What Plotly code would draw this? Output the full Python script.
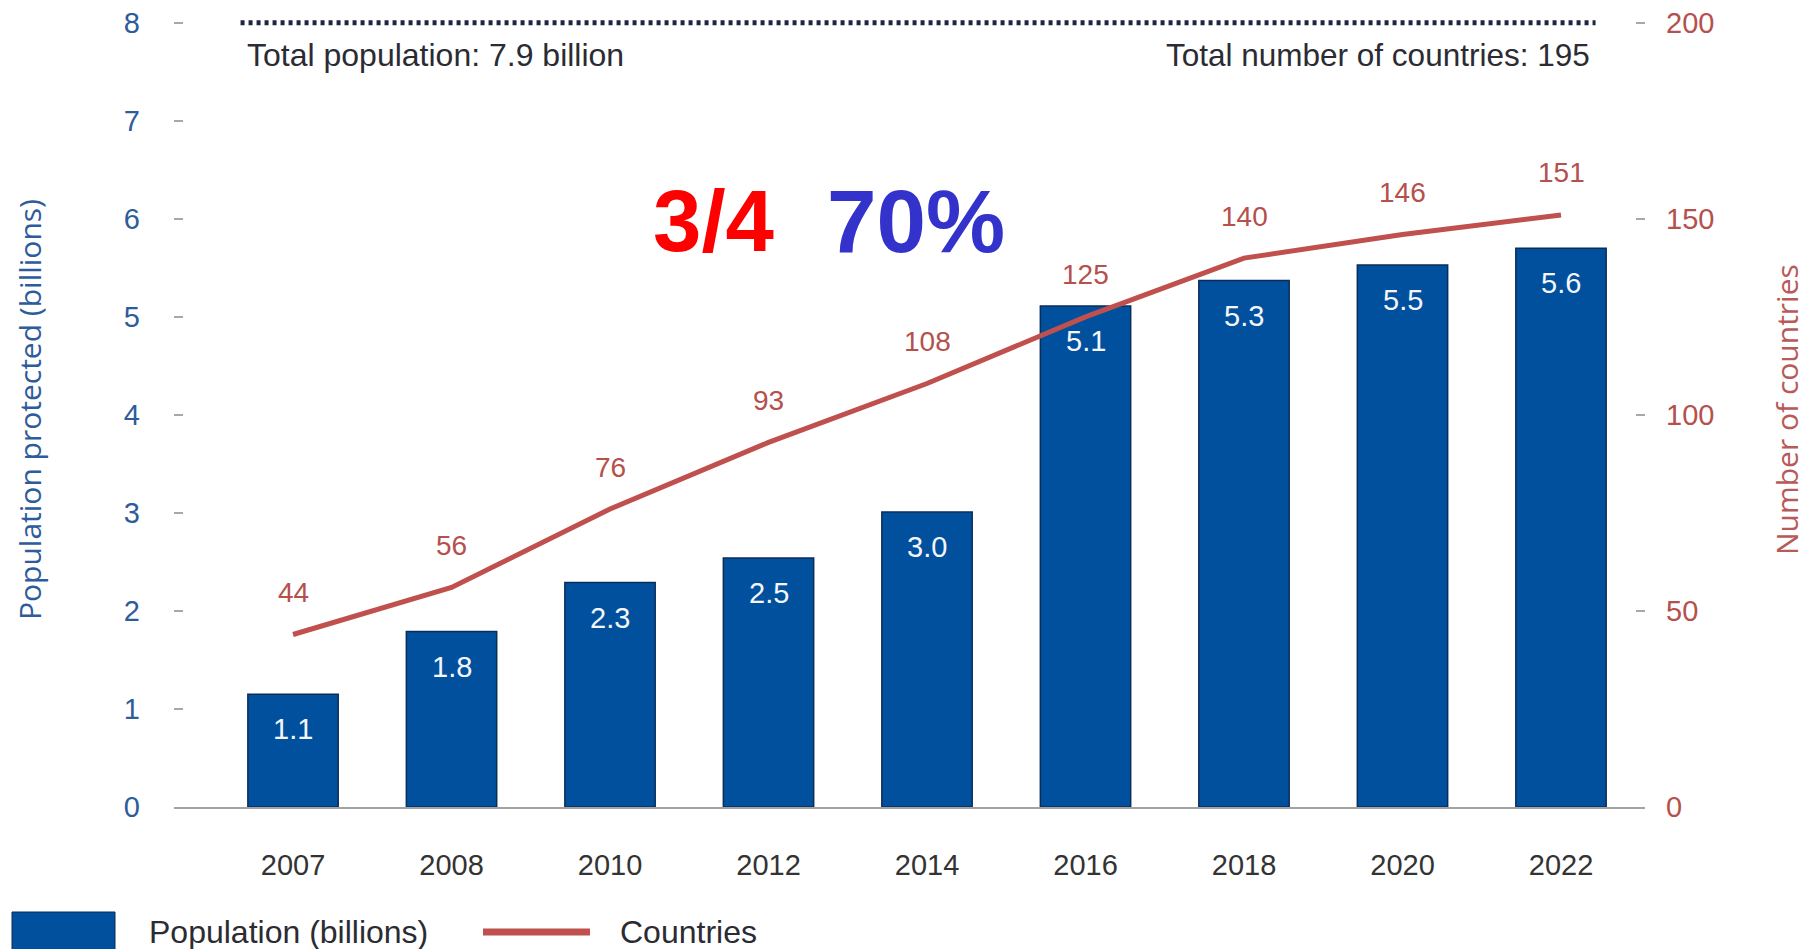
import plotly.graph_objects as go

# data
years = ['2007', '2008', '2010', '2012', '2014', '2016', '2018', '2020', '2022']
population = [1.15, 1.79, 2.29, 2.54, 3.01, 5.11, 5.37, 5.53, 5.70]
population_labels = ['1.1', '1.8', '2.3', '2.5', '3.0', '5.1', '5.3', '5.5', '5.6']
countries = [44, 56, 76, 93, 108, 125, 140, 146, 151]
total_population_line = 8
left_ticks = [0, 1, 2, 3, 4, 5, 6, 7, 8]
right_ticks = [0, 50, 100, 150, 200]

BLUE = '#00509E'
BAR_EDGE = '#0B2D5A'
RED = '#C0504D'
RED_TEXT = '#B5504C'
AXIS_BLUE = '#2E5C9A'
DARK = '#2B2B33'
FONT = 'Liberation Sans, Arial, sans-serif'

# the page body has an 8px margin, so the figure is drawn 8px smaller
OFF = 8
W, H = 1813 - OFF, 949 - OFF
ML, MR, MT, MB = 174 - OFF, 168, 5, 142
PW, PH = W - ML - MR, H - MT - MB


# helpers to place the hand-drawn legend (page pixels -> paper coords)
def px_x(px):
    return (px - OFF - ML) / PW


def px_y(py):
    return (H - MB - (py - OFF)) / PH


fig = go.Figure()

fig.add_trace(go.Bar(x=years, y=population, name='Population (billions)', width=0.57,
                     marker=dict(color=BLUE, line=dict(color=BAR_EDGE, width=1.5)),
                     showlegend=False))
fig.add_trace(go.Scatter(x=years, y=countries, name='Countries', yaxis='y2', mode='lines',
                         line=dict(color=RED, width=5), showlegend=False))

# dotted reference line for the total population / number of countries
fig.add_shape(type='line', xref='x', yref='y', x0=-0.331, x1=8.218,
              y0=total_population_line, y1=total_population_line,
              line=dict(color='#1F2440', width=5, dash='4px,4px'))

annotations = []
# category positions are given by index so plotly doesn't read '2007' as an index
for i, (v, lab) in enumerate(zip(population, population_labels)):
    annotations.append(dict(x=i, y=v, xref='x', yref='y', text=lab, showarrow=False,
                            yshift=-35, font=dict(family=FONT, size=29, color='#F4F6FA')))
for i, c in enumerate(countries):
    annotations.append(dict(x=i, y=c, xref='x', yref='y2', text=str(c), showarrow=False,
                            yshift=42, font=dict(family=FONT, size=28, color=RED_TEXT)))

annotations += [
    dict(x=-0.331, y=total_population_line, xref='x', yref='y', xanchor='left', yanchor='middle',
         yshift=-32, xshift=4, text='Total population: 7.9 billion', showarrow=False,
         font=dict(family=FONT, size=32, color=DARK)),
    dict(x=8.218, y=total_population_line, xref='x', yref='y', xanchor='right', yanchor='middle',
         yshift=-32, xshift=-4, text='Total number of countries: 195', showarrow=False,
         font=dict(family=FONT, size=31.5, color=DARK)),
    dict(x=2.65, y=5.98, xref='x', yref='y', text='<b>3/4</b>', showarrow=False,
         font=dict(family='Liberation Sans, Arial, sans-serif', size=87, color='#FF0000')),
    dict(x=3.93, y=5.98, xref='x', yref='y', text='<b>70%</b>', showarrow=False,
         font=dict(family='Liberation Sans, Arial, sans-serif', size=89, color='#3333CC')),
    # axis titles
    dict(x=0, y=0.5, xref='paper', yref='paper', xshift=-145, xanchor='center', yanchor='middle',
         textangle=-90, text='Population protected (billions)', showarrow=False,
         font=dict(family='Open Sans, sans-serif', size=30, color=AXIS_BLUE)),
    dict(x=1, y=0.5, xref='paper', yref='paper', xshift=141, xanchor='center', yanchor='middle',
         textangle=-90, text='Number of countries', showarrow=False,
         font=dict(family='Open Sans, sans-serif', size=30, color='#B85A58')),
    # legend
    dict(x=px_x(147), y=px_y(932), xref='paper', yref='paper', xanchor='left', yanchor='middle',
         text='Population (billions)', showarrow=False, font=dict(family=FONT, size=32, color=DARK)),
    dict(x=px_x(618), y=px_y(932), xref='paper', yref='paper', xanchor='left', yanchor='middle',
         text='Countries', showarrow=False, font=dict(family=FONT, size=32, color=DARK)),
]

fig.add_shape(type='rect', xref='paper', yref='paper', x0=px_x(12), x1=px_x(115),
              y0=px_y(960), y1=px_y(912), fillcolor=BLUE, line=dict(color=BAR_EDGE, width=1))
fig.add_shape(type='line', xref='paper', yref='paper', x0=px_x(483), x1=px_x(590),
              y0=px_y(932), y1=px_y(932), line=dict(color=RED, width=7))

fig.update_xaxes(type='category', range=[-0.751, 8.53], showgrid=False, zeroline=False,
                 showline=True, linecolor='#A3A3A3', linewidth=2, ticks='', automargin=False,
                 ticklabelstandoff=31, tickfont=dict(family=FONT, size=29, color='#333333'))
fig.update_layout(
    width=W, height=H, autosize=False,
    margin=dict(l=ML, r=MR, t=MT, b=MB),
    plot_bgcolor='white', paper_bgcolor='white',
    yaxis=dict(range=[0, 8.1], tickvals=left_ticks, showgrid=False, zeroline=False,
               ticks='inside', ticklen=9, tickwidth=2, tickcolor='#A8A8A8', automargin=False,
               ticklabelstandoff=33, ticklabeloverflow='allow',
               tickfont=dict(family=FONT, size=29, color=AXIS_BLUE)),
    yaxis2=dict(range=[0, 202.5], tickvals=right_ticks, overlaying='y', side='right',
                showgrid=False, zeroline=False, automargin=False,
                ticks='inside', ticklen=9, tickwidth=2, tickcolor='#A8A8A8',
                ticklabelstandoff=20, ticklabeloverflow='allow',
                tickfont=dict(family=FONT, size=29, color=RED_TEXT)),
    annotations=annotations,
    showlegend=False,
)

fig.write_html("out.html")
